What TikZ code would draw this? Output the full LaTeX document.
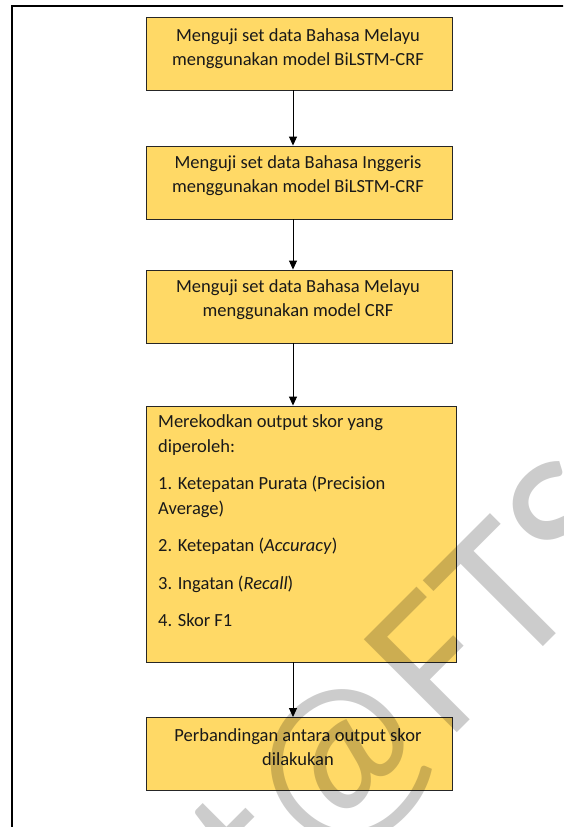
\documentclass[tikz,border=0pt]{standalone}
\usepackage{fontspec}
\setmainfont{Carlito}
\usetikzlibrary{arrows.meta}
\definecolor{boxyellow}{HTML}{FFD966}
\begin{document}
\begin{tikzpicture}[x=1pt,y=-1pt,
  box/.style={draw=black!85, line width=0.9pt, fill=boxyellow, minimum width=306pt, minimum height=73pt, inner sep=0pt},
  lbl/.style={inner sep=0pt, align=center, anchor=north, font=\fontsize{18.5}{23.5}\selectfont, text=black!90},
  lblleft/.style={inner sep=0pt, align=left, anchor=north west, font=\fontsize{18.5}{24.5}\selectfont, text=black!90},
  conn/.style={draw=black, line width=1pt, -{Triangle[width=8pt,length=9pt]}},
  wm/.style={rotate=45, inner sep=0pt, font=\fontsize{205}{205}\selectfont, text=black, text opacity=0.2},
]
\useasboundingbox (0,0) rectangle (563,827);
\fill[white] (0,0) rectangle (563,827);
\begin{scope}
\clip (0,0) rectangle (563,827);
\draw[line width=2pt] (12,900) -- (12,6) -- (600,6);
\end{scope}

\node[box] (b1) at (299,53.5) {};
\node[box] (b2) at (299,182.5) {};
\node[box] (b3) at (299,306.5) {};
\node[box, minimum width=310pt, minimum height=256pt] (b4) at (301,534) {};
\node[box] (b5) at (299,754) {};

\node[lbl] (t1) at (298,28.8) {Menguji set data Bahasa Melayu\\menggunakan model BiLSTM-CRF};
\node[lbl] (t2) at (298,155.8) {Menguji set data Bahasa Inggeris\\menggunakan model BiLSTM-CRF};
\node[lbl] (t3) at (298,279.8) {Menguji set data Bahasa Melayu\\menggunakan model CRF};
\node[lblleft] (t4) at (158,414.8) {Merekodkan output skor yang\\diperoleh:\\[13pt]1. Ketepatan Purata (Precision\\Average)\\[13pt]2. Ketepatan (\textit{Accuracy})\\[13pt]3. Ingatan (\textit{Recall})\\[13pt]4. Skor F1};
\node[lbl] (t5) at (298,728.8) {Perbandingan antara output skor\\dilakukan};

\draw[conn] ([xshift=-6pt]b1.south) -- ([xshift=-6pt]b2.north);
\draw[conn] ([xshift=-6pt]b2.south) -- ([xshift=-6pt]b3.north);
\draw[conn] ([xshift=-6pt]b3.south) -- ([xshift=-8pt]b4.north);
\draw[conn] ([xshift=-8pt]b4.south) -- ([xshift=-6pt]b5.north);

\begin{scope}
\clip (0,0) rectangle (563,827);
\coordinate (wp) at (318,872);
\node[wm, anchor=base east] (wmA) at (wp) {Copyright};
\node[wm, anchor=base west] (wmB) at (wp) {@FTSM};
\end{scope}
\end{tikzpicture}
\end{document}
